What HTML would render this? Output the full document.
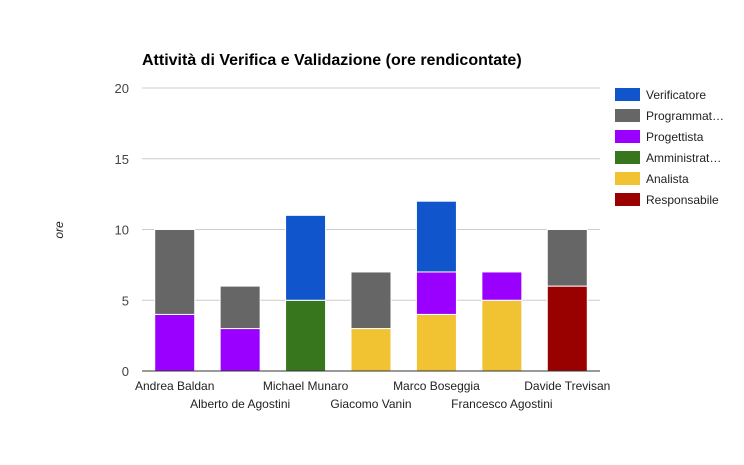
<!DOCTYPE html>
<html><head><meta charset="utf-8"><style>
body{margin:0;background:#fff;font-family:"Liberation Sans",Arial,sans-serif}
svg text{font-family:"Liberation Sans",Arial,sans-serif}
</style></head><body>
<svg id="chart" width="744" height="460" xmlns="http://www.w3.org/2000/svg">
<rect width="744" height="460" fill="#fff"/>
<text x="142" y="65" font-size="16" font-weight="bold" fill="#000">Attività di Verifica e Validazione (ore rendicontate)</text>
<text transform="translate(63,230) rotate(-90)" text-anchor="middle" font-size="12" font-style="italic" fill="#222">ore</text>
<g id="grid"></g><g id="bars"></g><g id="axis"></g><g id="xl"></g><g id="legend"></g>
</svg>
<script>
const categories=["Andrea Baldan","Alberto de Agostini","Michael Munaro","Giacomo Vanin","Marco Boseggia","Francesco Agostini","Davide Trevisan"];
const seriesNames=["Responsabile","Analista","Amministratore","Progettista","Programmatore","Verificatore"];
const legendLabels=["Verificatore","Programmat…","Progettista","Amministrat…","Analista","Responsabile"];
const responsabile=[0,0,0,0,0,0,6];
const analista=[0,0,0,3,4,5,0];
const amministratore=[0,0,5,0,0,0,0];
const progettista=[4,3,0,0,3,2,0];
const programmatore=[6,3,0,4,0,0,4];
const verificatore=[0,0,6,0,5,0,0];
const yTicks=[0,5,10,15,20];
const colors=["#990000","#f1c232","#38761d","#9900ff","#666666","#1155cc"];
const series=[responsabile,analista,amministratore,progettista,programmatore,verificatore];
const NS="http://www.w3.org/2000/svg";
const x0=142,x1=600,yb=371,yt=88,ymax=20;
const y=v=>yb-(v/ymax)*(yb-yt);
const step=(x1-x0)/categories.length;
const xc=i=>x0+step*(i+0.5);
const bw=40;
function mk(t,a,p){const e=document.createElementNS(NS,t);for(const k in a)e.setAttribute(k,a[k]);p.appendChild(e);return e;}
const g=document.getElementById('grid');
yTicks.forEach(t=>{
 const l=mk('line',{x1:x0,x2:x1,y1:y(t),y2:y(t),stroke:t===0?'#333':'#ccc','stroke-width':1},t===0?document.getElementById('axis'):g);
 
 
 const tx=mk('text',{x:129,y:y(t)+5,'text-anchor':'end','font-size':13,fill:'#444'},g);tx.textContent=t;
 
 
});
const b=document.getElementById('bars');
categories.forEach((c,i)=>{
 let acc=0;
 series.forEach((s,si)=>{
  if(!s[i])return;
  const r=mk('rect',{x:xc(i)-bw/2,y:y(acc+s[i]),width:bw,height:y(acc)-y(acc+s[i]),fill:colors[si],stroke:'#fff','stroke-width':1},b);
  
  
  acc+=s[i];
 });
 const tx=mk('text',{x:xc(i),y:i%2===0?390:408,'text-anchor':'middle','font-size':12,fill:'#222'},document.getElementById('xl'));
 tx.textContent=c;
 
 
});
const lg=document.getElementById('legend');
legendLabels.forEach((n,i)=>{
 const yy=88+i*21;
 const r=mk('rect',{x:615,y:yy,width:25,height:13,fill:colors[5-i]},lg);
 
 
 const t=mk('text',{x:646,y:yy+11,'font-size':12,fill:'#222'},lg);t.textContent=n;
 
 
});
</script>
</body></html>
